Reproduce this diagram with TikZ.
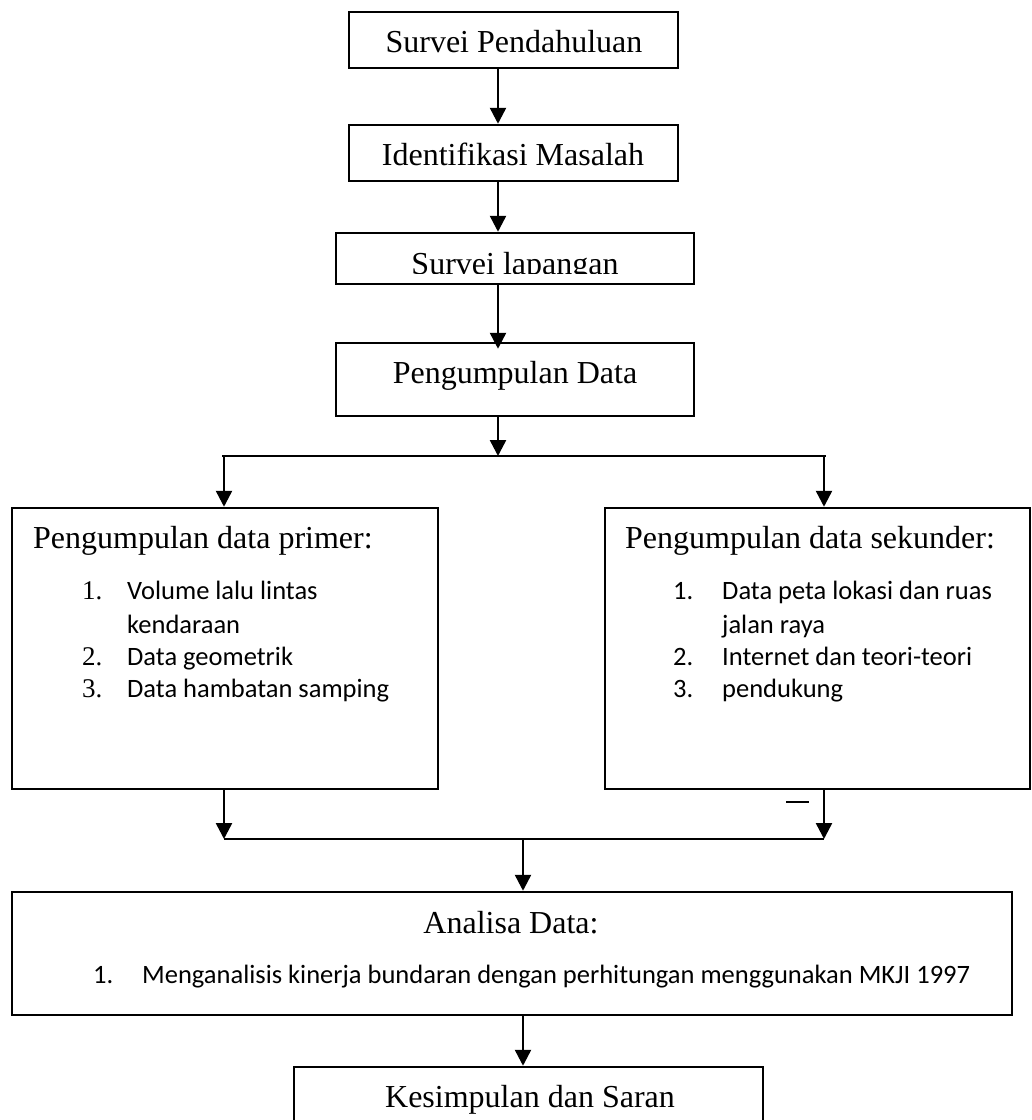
\documentclass[tikz,border=0pt]{standalone}
\usepackage{fontspec}
\setmainfont{Liberation Serif}
\newfontfamily\lstfont{Carlito}
\usetikzlibrary{arrows.meta}
\begin{document}
\begin{tikzpicture}[x=1pt,y=-1pt,
  box/.style={draw=black,line width=2.5pt,inner sep=0pt,rectangle},
  arr/.style={line width=2.5pt,-{Triangle[length=16pt,width=16pt]}},
  ln/.style={line width=2.5pt},
  ttl/.style={inner sep=0pt,font=\fontsize{32}{38}\selectfont},
  num/.style={inner sep=0pt,font=\fontsize{27}{32}\selectfont},
  lst/.style={inner sep=0pt,font=\lstfont\fontsize{26.5}{32}\selectfont}]
\clip (0,0) rectangle (1032,1120);
\fill[white] (0,0) rectangle (1032,1120);
% boxes
\node[box,minimum width=329pt,minimum height=56pt] (b1) at (513.5,40) {};
\node[box,minimum width=329pt,minimum height=56pt] (b2) at (513.5,153) {};
\node[box,minimum width=358pt,minimum height=51pt] (b3) at (515,258.5) {};
\node[box,minimum width=358pt,minimum height=73pt] (b4) at (515,379.5) {};
\node[box,minimum width=426pt,minimum height=281pt] (L) at (225,648.5) {};
\node[box,minimum width=425pt,minimum height=281pt] (R) at (817.5,648.5) {};
\node[box,minimum width=1000pt,minimum height=123pt] (A) at (512,953.5) {};
\node[box,minimum width=469pt,minimum height=100pt] (K) at (528.5,1117) {};
% texts
\node[ttl,anchor=base] (t1) at (514,52) {Survei Pendahuluan};
\node[ttl,anchor=base] (t2) at (513,165) {Identifikasi Masalah};
\begin{scope}
\clip (336,233) rectangle (694,273.5);
\node[ttl,anchor=base] (t3) at (515,274) {Survei lapangan};
\end{scope}
\node[ttl,anchor=base] (t4) at (515,383) {Pengumpulan Data};
\node[ttl,anchor=base west] (tL) at (33,548) {Pengumpulan data primer:};
\node[ttl,anchor=base west] (tR) at (625,548) {Pengumpulan data sekunder:};
\node[ttl,anchor=base] (tA) at (511,933) {Analisa Data:};
\node[ttl,anchor=base] (tK) at (530,1107) {Kesimpulan dan Saran};
% lists
\node[num,anchor=base west] (l1n) at (82,599) {1.};
\node[lst,anchor=base west] (l1) at (127,599) {Volume lalu lintas};
\node[lst,anchor=base west] (l1b) at (127,633) {kendaraan};
\node[num,anchor=base west] (l2n) at (82,665) {2.};
\node[lst,anchor=base west] (l2) at (127,665) {Data geometrik};
\node[num,anchor=base west] (l3n) at (82,697) {3.};
\node[lst,anchor=base west] (l3) at (127,697) {Data hambatan samping};
\node[lst,anchor=base west] (r1n) at (673,599) {1.};
\node[lst,anchor=base west] (r1) at (722,599) {Data peta lokasi dan ruas};
\node[lst,anchor=base west] (r1b) at (722,633) {jalan raya};
\node[lst,anchor=base west] (r2n) at (673,665) {2.};
\node[lst,anchor=base west] (r2) at (722,665) {Internet dan teori-teori};
\node[lst,anchor=base west] (r3n) at (673,697) {3.};
\node[lst,anchor=base west] (r3) at (722,697) {pendukung};
\node[lst,anchor=base west] (a1n) at (93,983) {1.};
\node[lst,anchor=base west] (a1) at (142,983) {Menganalisis kinerja bundaran dengan perhitungan menggunakan MKJI 1997};
% helper coordinates
\coordinate (ax) at (498,0);
\coordinate (lx) at (224,0);
\coordinate (rx) at (824,0);
\coordinate (cx) at (523,0);
\coordinate (s1) at (498,456);
\coordinate (sL) at (222,456);
\coordinate (sR) at (826,456);
\coordinate (m1) at (523,839);
\coordinate (mL) at (224,839);
\coordinate (mR) at (824,839);
\coordinate (d1) at (786,802);
\coordinate (d2) at (809,802);
\coordinate (k1) at (498,340);
% connectors
\draw[arr] (b1.south -| ax) -- (b2.north -| ax);
\draw[arr] (b2.south -| ax) -- (b3.north -| ax);
\draw[arr] (b3.south -| ax) -- ([yshift=-7pt]b4.north -| ax);
\draw[line width=1.5pt] (k1) -- (b4.north -| ax);
\draw[arr] (b4.south -| ax) -- (s1);
\draw[ln] (sL) -- (sR);
\draw[arr] (sL -| lx) -- (L.north -| lx);
\draw[arr] (sR -| rx) -- (R.north -| rx);
\draw[arr] (L.south -| lx) -- (mL);
\draw[arr] (R.south -| rx) -- (mR);
\draw[ln] (mL) -- (mR);
\draw[arr] (m1) -- (A.north -| cx);
\draw[arr] (A.south -| cx) -- (K.north -| cx);
\draw[ln] (d1) -- (d2);
\end{tikzpicture}
\end{document}
